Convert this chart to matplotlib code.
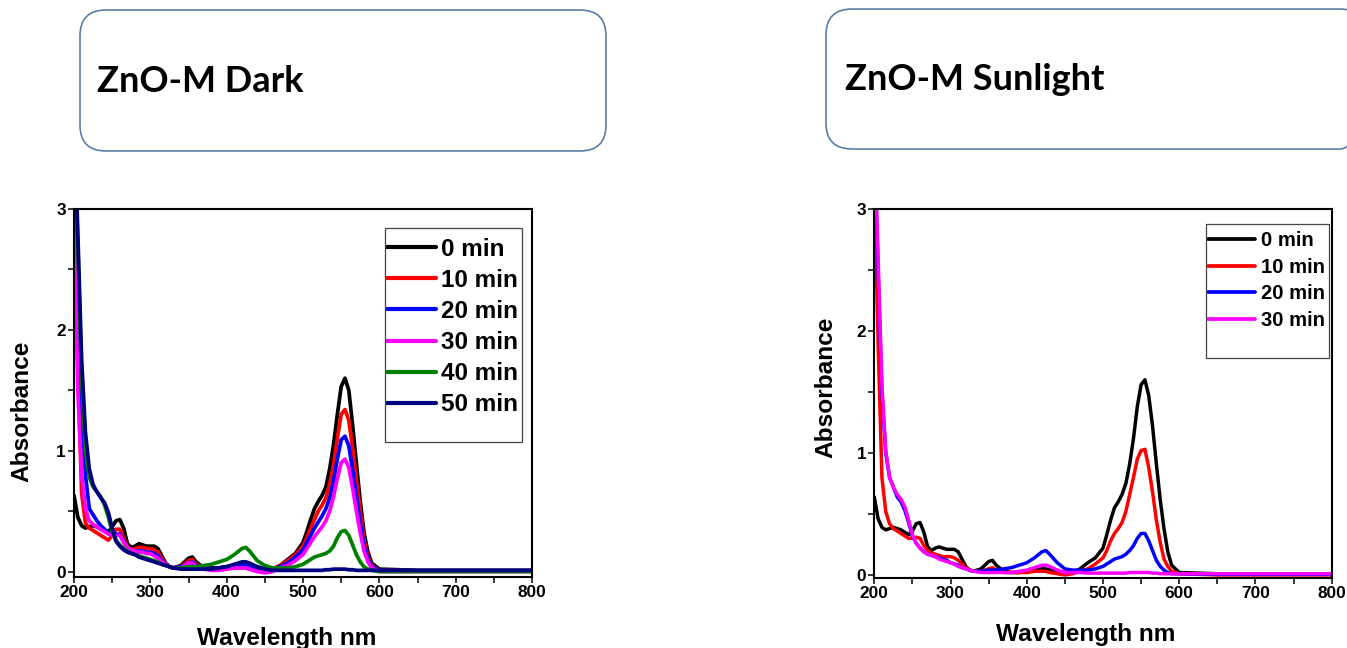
import matplotlib
matplotlib.use('Agg')
import matplotlib.pyplot as plt
from matplotlib.patches import FancyBboxPatch, Rectangle
from matplotlib.ticker import MultipleLocator

# ---------------- data ----------------
wavelength = [200, 205, 210, 215, 220, 225, 230, 235, 240, 245, 250, 255, 260, 265, 270,
              275, 280, 285, 290, 295, 300, 305, 310, 315, 320, 325, 330, 340, 350, 355,
              360, 370, 380, 390, 400, 410, 420, 425, 430, 440, 450, 460, 470, 480, 490,
              500, 505, 510, 515, 520, 525, 530, 535, 540, 545, 550, 555, 560, 565, 570,
              575, 580, 585, 590, 600, 650, 700, 750, 800]

dark_labels = ['0 min', '10 min', '20 min', '30 min', '40 min', '50 min']
dark_colors = ['#000000', '#ff0000', '#0000ff', '#ff00ff', '#008000', '#000080']

dark_0 = [0.63, 0.45, 0.38, 0.36, 0.37, 0.38, 0.37, 0.35, 0.34, 0.33, 0.37, 0.42, 0.43, 0.36, 0.23,
          0.20, 0.21, 0.23, 0.22, 0.21, 0.21, 0.21, 0.19, 0.13, 0.07, 0.04, 0.03, 0.05, 0.11, 0.12,
          0.08, 0.03, 0.03, 0.03, 0.04, 0.05, 0.06, 0.06, 0.05, 0.04, 0.02, 0.02, 0.05, 0.10, 0.15,
          0.24, 0.33, 0.43, 0.52, 0.58, 0.63, 0.70, 0.85, 1.05, 1.30, 1.53, 1.60, 1.50, 1.21, 0.89,
          0.58, 0.32, 0.16, 0.07, 0.02, 0.01, 0.01, 0.01, 0.01]
dark_10 = [3.20, 1.70, 0.65, 0.40, 0.36, 0.34, 0.32, 0.30, 0.28, 0.26, 0.30, 0.35, 0.35, 0.28, 0.20,
           0.18, 0.19, 0.20, 0.20, 0.19, 0.19, 0.18, 0.16, 0.11, 0.06, 0.04, 0.03, 0.04, 0.09, 0.10,
           0.06, 0.03, 0.02, 0.02, 0.03, 0.03, 0.03, 0.03, 0.02, 0.01, 0.01, 0.02, 0.05, 0.09, 0.14,
           0.21, 0.28, 0.36, 0.43, 0.50, 0.55, 0.61, 0.72, 0.88, 1.10, 1.30, 1.34, 1.25, 1.02, 0.76,
           0.50, 0.26, 0.12, 0.05, 0.01, 0.005, 0.005, 0.005, 0.005]
dark_20 = [3.50, 2.30, 1.30, 0.80, 0.52, 0.47, 0.42, 0.38, 0.35, 0.32, 0.30, 0.31, 0.31, 0.25, 0.19,
           0.17, 0.17, 0.17, 0.17, 0.16, 0.16, 0.15, 0.13, 0.09, 0.06, 0.04, 0.03, 0.04, 0.07, 0.08,
           0.05, 0.03, 0.02, 0.03, 0.04, 0.05, 0.06, 0.06, 0.05, 0.03, 0.02, 0.02, 0.04, 0.07, 0.12,
           0.18, 0.24, 0.30, 0.36, 0.41, 0.46, 0.52, 0.61, 0.75, 0.93, 1.09, 1.12, 1.04, 0.84, 0.62,
           0.40, 0.21, 0.10, 0.04, 0.01, 0.005, 0.005, 0.005, 0.005]
dark_30 = [3.10, 1.50, 0.80, 0.52, 0.42, 0.39, 0.37, 0.35, 0.33, 0.31, 0.30, 0.30, 0.30, 0.24, 0.20,
           0.18, 0.17, 0.16, 0.16, 0.15, 0.15, 0.13, 0.11, 0.08, 0.06, 0.04, 0.03, 0.03, 0.07, 0.07,
           0.04, 0.02, 0.01, 0.01, 0.02, 0.03, 0.03, 0.03, 0.02, 0.00, -0.01, 0.00, 0.03, 0.05, 0.09,
           0.14, 0.19, 0.24, 0.29, 0.33, 0.37, 0.42, 0.50, 0.62, 0.77, 0.90, 0.93, 0.86, 0.69, 0.50,
           0.32, 0.17, 0.08, 0.03, 0.00, 0.00, 0.00, 0.00, 0.00]
dark_40 = [3.70, 2.70, 1.60, 1.00, 0.78, 0.70, 0.66, 0.62, 0.55, 0.45, 0.33, 0.26, 0.22, 0.19, 0.17,
           0.15, 0.14, 0.13, 0.12, 0.11, 0.10, 0.09, 0.08, 0.06, 0.05, 0.04, 0.03, 0.03, 0.04, 0.04,
           0.04, 0.05, 0.06, 0.08, 0.10, 0.14, 0.19, 0.20, 0.17, 0.09, 0.05, 0.03, 0.03, 0.03, 0.04,
           0.06, 0.08, 0.10, 0.12, 0.13, 0.14, 0.15, 0.17, 0.21, 0.28, 0.33, 0.34, 0.30, 0.22, 0.14,
           0.08, 0.04, 0.02, 0.01, 0.00, 0.00, 0.00, 0.00, 0.00]
dark_50 = [3.80, 2.80, 1.75, 1.15, 0.85, 0.72, 0.66, 0.61, 0.57, 0.49, 0.36, 0.25, 0.21, 0.18, 0.16,
           0.15, 0.14, 0.12, 0.11, 0.10, 0.09, 0.08, 0.07, 0.06, 0.05, 0.04, 0.03, 0.02, 0.02, 0.02,
           0.02, 0.02, 0.02, 0.03, 0.04, 0.06, 0.08, 0.08, 0.07, 0.04, 0.02, 0.01, 0.01, 0.01, 0.01,
           0.01, 0.01, 0.01, 0.01, 0.01, 0.01, 0.015, 0.015, 0.02, 0.02, 0.02, 0.02, 0.015, 0.015, 0.01,
           0.01, 0.01, 0.01, 0.01, 0.01, 0.01, 0.01, 0.01, 0.01]

sun_labels = ['0 min', '10 min', '20 min', '30 min']
sun_colors = ['#000000', '#ff0000', '#0000ff', '#ff00ff']

sun_0 = [0.64, 0.46, 0.39, 0.37, 0.38, 0.39, 0.38, 0.37, 0.35, 0.33, 0.36, 0.42, 0.43, 0.35, 0.23,
         0.20, 0.22, 0.23, 0.22, 0.21, 0.21, 0.21, 0.19, 0.13, 0.07, 0.04, 0.03, 0.05, 0.11, 0.12,
         0.08, 0.03, 0.02, 0.02, 0.03, 0.04, 0.05, 0.05, 0.04, 0.03, 0.02, 0.02, 0.05, 0.10, 0.14,
         0.22, 0.33, 0.45, 0.55, 0.60, 0.66, 0.75, 0.91, 1.12, 1.38, 1.56, 1.60, 1.47, 1.22, 0.91,
         0.62, 0.38, 0.19, 0.08, 0.02, 0.01, 0.01, 0.01, 0.01]
sun_10 = [3.20, 1.90, 0.80, 0.52, 0.42, 0.38, 0.36, 0.34, 0.32, 0.30, 0.30, 0.31, 0.30, 0.24, 0.20,
          0.18, 0.17, 0.16, 0.15, 0.15, 0.15, 0.14, 0.12, 0.09, 0.06, 0.04, 0.03, 0.03, 0.05, 0.06,
          0.04, 0.02, 0.02, 0.02, 0.02, 0.03, 0.03, 0.03, 0.02, 0.01, 0.00, 0.01, 0.03, 0.05, 0.09,
          0.14, 0.20, 0.28, 0.34, 0.38, 0.43, 0.52, 0.66, 0.80, 0.95, 1.02, 1.03, 0.88, 0.68, 0.45,
          0.27, 0.13, 0.07, 0.03, 0.01, 0.00, 0.00, 0.00, 0.00]
sun_20 = [3.60, 2.50, 1.50, 1.00, 0.80, 0.72, 0.64, 0.60, 0.53, 0.43, 0.32, 0.26, 0.22, 0.19, 0.17,
          0.16, 0.15, 0.14, 0.13, 0.12, 0.10, 0.09, 0.08, 0.06, 0.05, 0.04, 0.03, 0.03, 0.04, 0.04,
          0.04, 0.05, 0.06, 0.08, 0.10, 0.14, 0.19, 0.20, 0.17, 0.10, 0.05, 0.04, 0.04, 0.04, 0.05,
          0.07, 0.09, 0.11, 0.13, 0.14, 0.15, 0.17, 0.20, 0.24, 0.30, 0.34, 0.34, 0.28, 0.20, 0.12,
          0.07, 0.04, 0.02, 0.01, 0.01, 0.005, 0.005, 0.005, 0.005]
sun_30 = [3.60, 2.60, 1.55, 1.02, 0.80, 0.72, 0.66, 0.62, 0.56, 0.45, 0.33, 0.26, 0.22, 0.19, 0.17,
          0.16, 0.15, 0.13, 0.12, 0.11, 0.10, 0.09, 0.07, 0.06, 0.05, 0.04, 0.03, 0.02, 0.02, 0.02,
          0.02, 0.02, 0.02, 0.03, 0.04, 0.06, 0.08, 0.08, 0.07, 0.04, 0.02, 0.02, 0.02, 0.015, 0.015,
          0.015, 0.015, 0.015, 0.015, 0.015, 0.015, 0.015, 0.02, 0.02, 0.02, 0.02, 0.02, 0.02, 0.015, 0.015,
          0.01, 0.01, 0.01, 0.01, 0.01, 0.01, 0.01, 0.01, 0.01]

x_ticks = [200, 300, 400, 500, 600, 700, 800]
y_ticks = [0, 1, 2, 3]
titles = ['ZnO-M Dark', 'ZnO-M Sunlight']
x_label = 'Wavelength nm'
y_label = 'Absorbance'

# ---------------- figure ----------------
W, H = 1347, 648
plt.rcParams['font.family'] = ['Liberation Sans', 'DejaVu Sans']
plt.rcParams['font.weight'] = 'bold'
fig = plt.figure(figsize=(W / 100, H / 100), dpi=100)
fig.patch.set_facecolor('white')


def px_axes(x0, y_top, x1, y_bot):
    return fig.add_axes([x0 / W, 1 - y_bot / H, (x1 - x0) / W, (y_bot - y_top) / H])


ax1 = px_axes(74, 209, 532, 577)
ax2 = px_axes(874.3, 209, 1331.7, 578)

series_left = [dark_0, dark_10, dark_20, dark_30, dark_40, dark_50]
series_right = [sun_0, sun_10, sun_20, sun_30]

for ax, series, labels, colors, ymin, lw in [
        (ax1, series_left, dark_labels, dark_colors, -0.045, 2.7),
        (ax2, series_right, sun_labels, sun_colors, -0.025, 2.5)]:
    for vals, lab, col in zip(series, labels, colors):
        ax.plot(wavelength, vals, color=col, lw=lw, label=lab, solid_capstyle='round')
    ax.set_xlim(200, 800)
    ax.set_ylim(ymin, 3)
    ax.set_xticks(x_ticks)
    ax.set_yticks(y_ticks)
    ax.xaxis.set_minor_locator(MultipleLocator(50))
    ax.yaxis.set_minor_locator(MultipleLocator(0.5))
    ax.tick_params(axis='both', which='both', direction='out', length=4.3, width=1.1,
                   labelsize=12.4, pad=1.5, top=False, right=False)
    for sp in ax.spines.values():
        sp.set_linewidth(1.5)

# legends (frames drawn separately)
leg1 = ax1.legend(loc='upper left', bbox_to_anchor=(387.4 / W, 1 - 237.5 / H),
                  bbox_transform=fig.transFigure, frameon=False, borderpad=0,
                  prop={'size': 17.5, 'weight': 'bold'}, handlelength=1.98,
                  handletextpad=0.22, labelspacing=0.337, borderaxespad=0)
for l in leg1.get_lines():
    l.set_linewidth(3.0)
leg2 = ax2.legend(loc='upper left', bbox_to_anchor=(1207.5 / W, 1 - 231.5 / H),
                  bbox_transform=fig.transFigure, frameon=False, borderpad=0,
                  prop={'size': 14.6, 'weight': 'bold'}, handlelength=2.34,
                  handletextpad=0.28, labelspacing=0.366, borderaxespad=0)
for l in leg2.get_lines():
    l.set_linewidth(2.7)

# overlay in pixel coordinates for boxes and legend frames
ov = fig.add_axes([0, 0, 1, 1], zorder=5)
ov.set_xlim(0, W)
ov.set_ylim(H, 0)
ov.axis('off')

box_col = '#5a7da6'
ov.add_patch(FancyBboxPatch((80, 10), 526, 141, boxstyle='round,pad=0,rounding_size=26',
                            fc='none', ec=box_col, lw=1.2))
ov.add_patch(FancyBboxPatch((826, 9), 540, 140, boxstyle='round,pad=0,rounding_size=26',
                            fc='none', ec=box_col, lw=1.2))
ov.text(97, 82, titles[0], ha='left', va='center', fontsize=26,
        family=['Lato', 'DejaVu Sans'], fontweight='bold')
ov.text(845, 80, titles[1], ha='left', va='center', fontsize=26,
        family=['Lato', 'DejaVu Sans'], fontweight='bold')

ov.add_patch(Rectangle((384.6, 227.7), 137.8, 214.6, fc='none', ec='#444444', lw=0.9))
ov.add_patch(Rectangle((1205.8, 224.3), 123.2, 133.4, fc='none', ec='#444444', lw=0.9))

# axis labels
ov.text(286.5, 645, x_label, ha='center', va='baseline', fontsize=17.6, fontweight='bold')
ov.text(1086, 641, x_label, ha='center', va='baseline', fontsize=17.6, fontweight='bold')
ov.text(22, 411, y_label, ha='center', va='center', rotation=90, fontsize=17.6, fontweight='bold')
ov.text(826, 387.5, y_label, ha='center', va='center', rotation=90, fontsize=17.6, fontweight='bold')

fig.savefig('out.png', dpi=100)
